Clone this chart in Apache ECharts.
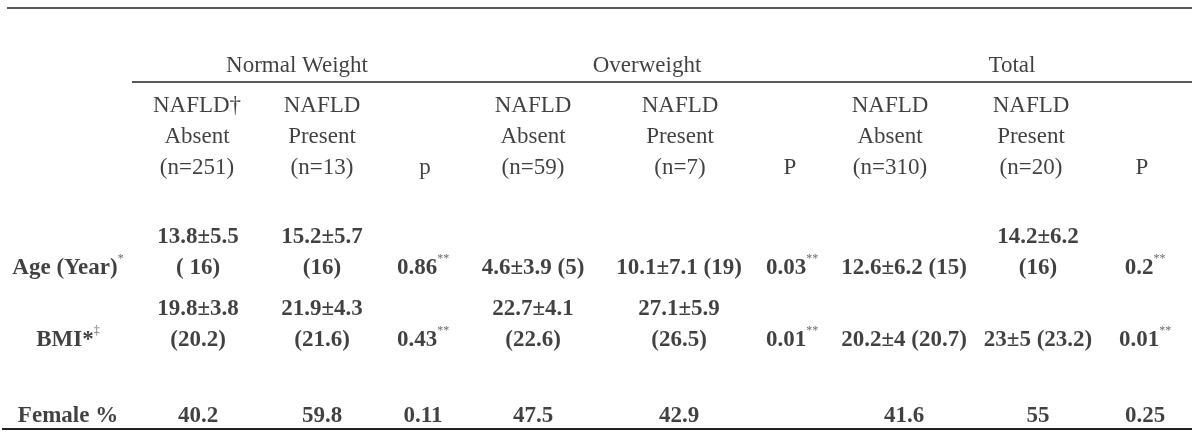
<!DOCTYPE html>
<html><head><meta charset="utf-8">
<script src="https://cdn.jsdelivr.net/npm/echarts@6/dist/echarts.min.js"></script>
<style>html,body{margin:0;padding:0;background:#fff}#c{width:1200px;height:435px}</style>
</head><body><div id="c"></div>
<script>
// ---- data ----
const groups = ['Normal Weight', 'Overweight', 'Total'];
const colHeaders = [
  ['NAFLD†', 'Absent', '(n=251)'],
  ['NAFLD', 'Present', '(n=13)'],
  ['p'],
  ['NAFLD', 'Absent', '(n=59)'],
  ['NAFLD', 'Present', '(n=7)'],
  ['P'],
  ['NAFLD', 'Absent', '(n=310)'],
  ['NAFLD', 'Present', '(n=20)'],
  ['P']
];
const rowLabels = ['Age (Year)^*', 'BMI*^‡', 'Female %'];
const ageValues = ['13.8±5.5\n( 16)', '15.2±5.7\n(16)', '0.86^**', '4.6±3.9 (5)', '10.1±7.1 (19)', '0.03^**', '12.6±6.2 (15)', '14.2±6.2\n(16)', '0.2^**'];
const bmiValues = ['19.8±3.8\n(20.2)', '21.9±4.3\n(21.6)', '0.43^**', '22.7±4.1\n(22.6)', '27.1±5.9\n(26.5)', '0.01^**', '20.2±4 (20.7)', '23±5 (23.2)', '0.01^**'];
const femaleValues = ['40.2', '59.8', '0.11', '47.5', '42.9', '', '41.6', '55', '0.25'];
const bodyRows = [ageValues, bmiValues, femaleValues];

// ---- layout (table geometry, in axis units) ----
const L = {
  headX: [197, 322, 425, 533, 680, 790, 890, 1031, 1142],
  bodyX: [198, 322, 423, 533, 679, 792, 904, 1038, 1145],
  labelX: 68,
  groupX: [297, 647, 1012],
  groupY: 66,
  headLastY: 168,
  rowLastY: [268, 340, 416],
  lh: 31,
  rules: [
    {x1: 7, x2: 1192, y: 7.5, w: 1.6},
    {x1: 132, x2: 1192, y: 82, w: 1.6},
    {x1: 2, x2: 1192, y: 429, w: 2}
  ]
};
const FONT = "'Liberation Serif', 'Times New Roman', serif";

function toRich(text, cls) {
  return text.split('\n').map(line => {
    const parts = line.split('^');
    let s = parts[0] ? '{' + cls + '|' + parts[0] + '}' : '';
    if (parts.length > 1) {
      const m = parts[1].match(/^([*‡†]+)(.*)$/);
      s += '{' + cls + 's|' + m[1] + '}';
      if (m[2]) s += '{' + cls + '|' + m[2] + '}';
    }
    return s;
  }).join('\n');
}
function cell(x, lastY, text, cls) {
  const n = text.split('\n').length;
  return { value: [x, lastY - (n - 1) * L.lh / 2], label: { formatter: toRich(text, cls) } };
}

const cells = [];
groups.forEach((g, i) => cells.push(cell(L.groupX[i], L.groupY, g, 'n')));
colHeaders.forEach((h, i) => cells.push(cell(L.headX[i], L.headLastY, h.join('\n'), 'n')));
rowLabels.forEach((r, i) => cells.push(cell(L.labelX, L.rowLastY[i], r, 'b')));
bodyRows.forEach((row, ri) => row.forEach((v, ci) => {
  if (v) cells.push(cell(L.bodyX[ci], L.rowLastY[ri], v, 'b'));
}));

const chart = echarts.init(document.getElementById('c'), null, {renderer: 'canvas'});
chart.setOption({
  animation: false,
  backgroundColor: '#fff',
  grid: {left: 0, right: 0, top: 0, bottom: 0},
  xAxis: {type: 'value', min: 0, max: 1200, show: false},
  yAxis: {type: 'value', min: 0, max: 435, inverse: true, show: false},
  series: [{
    type: 'scatter',
    symbolSize: 0,
    silent: true,
    data: cells,
    label: {
      show: true,
      position: 'inside',
      color: '#000',
      align: 'center',
      verticalAlign: 'middle',
      rich: {
        n: {fontFamily: FONT, fontSize: 23, lineHeight: L.lh, color: '#111'},
        ns: {fontFamily: FONT, fontSize: 12, lineHeight: 24, verticalAlign: 'top', color: '#333'},
        b: {fontFamily: FONT, fontSize: 23, fontWeight: 'bold', lineHeight: L.lh, color: '#111'},
        bs: {fontFamily: FONT, fontSize: 12, lineHeight: 24, verticalAlign: 'top', color: '#444'}
      }
    },
    markLine: {
      silent: true,
      symbol: ['none', 'none'],
      label: {show: false},
      data: L.rules.map(r => [
        {coord: [r.x1, r.y], lineStyle: {color: '#222', width: r.w, type: 'solid'}},
        {coord: [r.x2, r.y]}
      ])
    }
  }]
});
</script></body></html>
